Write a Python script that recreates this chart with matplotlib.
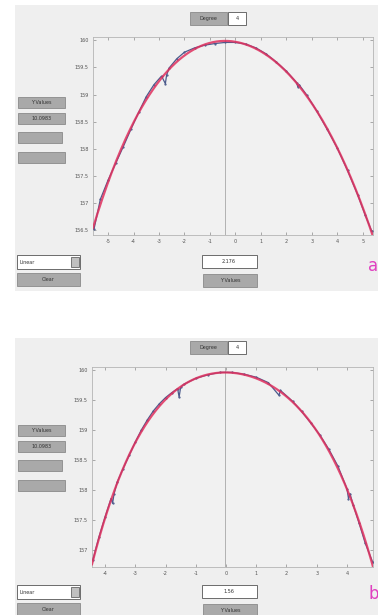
import numpy as np
import matplotlib
matplotlib.use('Agg')
import matplotlib.pyplot as plt
from matplotlib.patches import Rectangle

W, H = 378, 615

# ---- panel a: measured points (x, height)
xa = [-5.55, -5.3, -5.0, -4.7, -4.4, -4.1, -3.8, -3.5, -3.2, -2.9, -2.75, -2.7, -2.6,
      -2.3, -2.0, -1.6, -1.2, -0.8, -0.4, 0.0, 0.4, 0.8, 1.2, 1.6, 2.0, 2.4, 2.45,
      2.5, 2.8, 3.2, 3.6, 4.0, 4.4, 4.8, 5.1, 5.35]
ya = [156.52, 157.07, 157.42, 157.73, 158.04, 158.36, 158.67, 158.96, 159.18, 159.34,
      159.20, 159.36, 159.49, 159.66, 159.78, 159.86, 159.91, 159.94, 159.96, 159.96,
      159.93, 159.86, 159.75, 159.60, 159.43, 159.22, 159.14, 159.18, 158.99, 158.69,
      158.36, 158.01, 157.60, 157.15, 156.77, 156.48]

# ---- panel b: measured points
xb = [-4.4, -4.2, -4.0, -3.8, -3.75, -3.7, -3.6, -3.4, -3.2, -3.0, -2.8, -2.6, -2.4,
      -2.2, -2.0, -1.8, -1.6, -1.55, -1.5, -1.4, -1.0, -0.6, -0.2, 0.2, 0.6, 1.0,
      1.4, 1.75, 1.8, 2.2, 2.5, 2.8, 3.1, 3.4, 3.7, 4.0, 4.05, 4.1, 4.2, 4.4, 4.6, 4.85]
yb = [156.84, 157.22, 157.55, 157.86, 157.78, 157.94, 158.13, 158.36, 158.58, 158.80,
      159.00, 159.17, 159.32, 159.44, 159.54, 159.62, 159.69, 159.55, 159.71, 159.76,
      159.86, 159.92, 159.96, 159.96, 159.93, 159.88, 159.79, 159.58, 159.66, 159.48,
      159.31, 159.12, 158.92, 158.68, 158.40, 158.02, 157.86, 157.94, 157.76, 157.45,
      157.12, 156.80]

xticks_a = [-5, -4, -3, -2, -1, 0, 1, 2, 3, 4, 5]
yticks_a = [156.5, 157, 157.5, 158, 158.5, 159, 159.5, 160]
xticks_b = [-4, -3, -2, -1, 0, 1, 2, 3, 4]
yticks_b = [157, 157.5, 158, 158.5, 159, 159.5, 160]
degree = 4
fit_method = 'Linear'
btn_left = ['Y Values', '10.0983', '', '']
center_val = {'a': '2.176', 'b': '1.56'}

fig = plt.figure(figsize=(W / 100, H / 100), dpi=100)
fig.patch.set_facecolor('white')


def box(x0, y0, x1, y1, fc, ec='#8a8a8a', lw=0.6, z=1):
    r = Rectangle((x0 / W, 1 - y1 / H), (x1 - x0) / W, (y1 - y0) / H,
                  transform=fig.transFigure, facecolor=fc, edgecolor=ec,
                  linewidth=lw, zorder=z)
    fig.patches.append(r)


def label(x, y, s, size=3.5, color='#333333', ha='center'):
    fig.text(x / W, 1 - y / H, s, fontsize=size, color=color, ha=ha, va='center',
             zorder=5)


def panel(top, bottom, ax_rect, xs, ys, xt, yt, xlim, ylim, tag, off):
    # grey window background
    box(15, top, W, bottom, '#efefef', ec='none', z=-5)

    ax = fig.add_axes([ax_rect[0] / W, 1 - ax_rect[3] / H,
                       (ax_rect[2] - ax_rect[0]) / W, (ax_rect[3] - ax_rect[1]) / H])
    ax.set_zorder(3)
    ax.set_facecolor('#f1f1f1')
    for s in ax.spines.values():
        s.set_color('#b5b5b5')
        s.set_linewidth(0.6)

    coef = np.polyfit(xs, ys, degree)
    xx = np.linspace(xlim[0], xlim[1], 300)
    yy = np.polyval(coef, xx)
    xmax = xx[np.argmax(yy)]

    ax.axvline(xmax, color='#a8a8a8', lw=0.6)
    ax.plot(xs, ys, color='#4b5a8c', lw=0.9, marker='.', ms=1.2, zorder=3)
    ax.plot(xx, yy, color='#e0305e', lw=1.6, alpha=0.85, zorder=4)

    ax.set_xlim(*xlim)
    ax.set_ylim(*ylim)
    ax.set_xticks(xt)
    ax.set_yticks(yt)
    ax.set_xticklabels([str(v) for v in xt])
    ax.set_yticklabels([('%g' % v) for v in yt])
    ax.tick_params(direction='in', length=2, width=0.5, color='#8a8a8a',
                   labelsize=3.5, labelcolor='#555555', top=True, right=True, pad=3)

    # degree selector
    box(190, off[0], 227, off[0] + 13, '#a9a9a9')
    label(208, off[0] + 6.5, 'Degree')
    box(228, off[0], 246, off[0] + 13, 'white', ec='#555555')
    label(237, off[0] + 6.5, str(degree))

    # left buttons
    widths = [65, 65, 62, 65]
    for i, t in enumerate(btn_left):
        y0 = off[1] + [0, 16, 35, 55][i]
        box(18, y0, widths[i], y0 + 11, '#a9a9a9')
        if t:
            label((18 + widths[i]) / 2, y0 + 5.5, t)

    # bottom controls
    box(17, off[2], 80, off[2] + 14, 'white', ec='#555555')
    label(20, off[2] + 7, fit_method, ha='left')
    box(71, off[2] + 2, 79, off[2] + 12, '#c0c0c0', ec='#666666')
    box(17, off[2] + 18, 80, off[2] + 31, '#a9a9a9')
    label(48, off[2] + 24.5, 'Clear')
    box(202, off[2], 257, off[2] + 13, 'white', ec='#555555')
    label(229, off[2] + 6.5, center_val[tag])
    box(203, off[2] + 19, 257, off[2] + 32, '#a9a9a9')
    label(230, off[2] + 25.5, 'Y Values')

    label(off[3][0], off[3][1], tag, size=12, color='#e040c0', ha='left')
    return ax


panel(5, 291, (93, 37, 373, 235), xa, ya, xticks_a, yticks_a,
      (-5.59, 5.40), (156.41, 160.06), 'a', (12, 97, 255, (368, 266)))
panel(338, 615, (92, 367, 373, 567), xb, yb, xticks_b, yticks_b,
      (-4.43, 4.86), (156.72, 160.05), 'b', (341, 425, 585, (368, 594)))

fig.savefig('out.png', dpi=100)
